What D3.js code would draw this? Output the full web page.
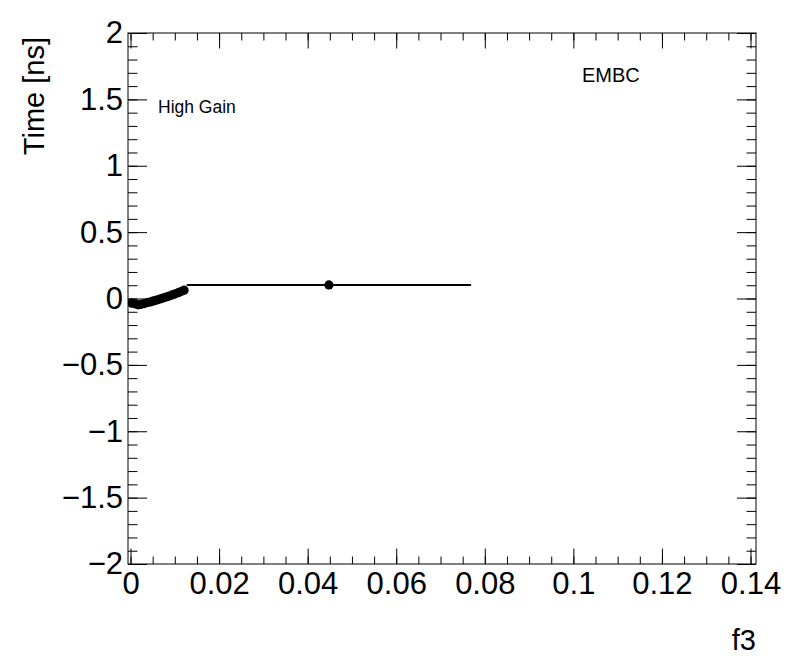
<!DOCTYPE html>
<html>
<head>
<meta charset="utf-8">
<script src="https://cdn.jsdelivr.net/npm/d3@7"></script>
<style>
  body { margin: 0; background: #fff; }
  svg { font-family: "Liberation Sans", Arial, Helvetica, sans-serif; }
</style>
</head>
<body>
<div id="chart"></div>
<script>
// points (f3 vs time)
const f3 = [0.0003, 0.0010, 0.0017, 0.0024, 0.0031, 0.0038, 0.0045, 0.0052, 0.0059,
            0.0066, 0.0073, 0.0080, 0.0087, 0.0094, 0.0101, 0.0108, 0.0115, 0.0121, 0.0448];
const time = [-0.035, -0.040, -0.048, -0.044, -0.038, -0.031, -0.026, -0.018, -0.012,
              -0.004, 0.003, 0.011, 0.018, 0.027, 0.035, 0.044, 0.054, 0.063, 0.102];
const f3Err = [0.00035, 0.00035, 0.00035, 0.00035, 0.00035, 0.00035, 0.00035, 0.00035, 0.00035,
               0.00035, 0.00035, 0.00035, 0.00035, 0.00035, 0.00035, 0.00035, 0.00035, 0.0003, 0.0321];
const timeErr = [0.016, 0.016, 0.016, 0.016, 0.016, 0.016, 0.016, 0.016, 0.016,
                 0.016, 0.016, 0.016, 0.016, 0.016, 0.016, 0.016, 0.016, 0.016, 0.0];

const xTicks = [0, 0.02, 0.04, 0.06, 0.08, 0.1, 0.12, 0.14];
const yTicks = [-2, -1.5, -1, -0.5, 0, 0.5, 1, 1.5, 2];
const xMinor = d3.range(0, 0.1401, 0.005);
const yMinor = d3.range(-2, 2.001, 0.1);

const W = 796, H = 672;
const frame = {left: 128, right: 756, top: 33, bottom: 564};

const svg = d3.select('#chart').append('svg')
    .attr('width', W)
    .attr('height', H);

const x = d3.scaleLinear().domain([-0.00057, 0.14124]).range([frame.left, frame.right]);
const y = d3.scaleLinear().domain([-2, 2]).range([frame.bottom, frame.top]);

const fmtY = d => d < 0 ? '\u2212' + Math.abs(d) : String(d);

// bottom axis with labels
svg.append('g').attr('transform', `translate(0,${frame.bottom})`)
    .call(d3.axisBottom(x).tickValues(xTicks).tickSize(-15.5).tickPadding(8)
        .tickFormat(d => String(+d.toFixed(2))));
svg.append('g').attr('transform', `translate(0,${frame.bottom})`)
    .call(d3.axisBottom(x).tickValues(xMinor).tickSize(-7.5).tickFormat(''));
// top axis, ticks only
svg.append('g').attr('transform', `translate(0,${frame.top})`)
    .call(d3.axisTop(x).tickValues(xTicks).tickSize(-15.5).tickFormat(''));
svg.append('g').attr('transform', `translate(0,${frame.top})`)
    .call(d3.axisTop(x).tickValues(xMinor).tickSize(-7.5).tickFormat(''));

// left axis with labels
svg.append('g').attr('transform', `translate(${frame.left},0)`)
    .call(d3.axisLeft(y).tickValues(yTicks).tickSize(-19).tickPadding(5).tickFormat(fmtY));
svg.append('g').attr('transform', `translate(${frame.left},0)`)
    .call(d3.axisLeft(y).tickValues(yMinor).tickSize(-9.5).tickFormat(''));
// right axis, ticks only
svg.append('g').attr('transform', `translate(${frame.right},0)`)
    .call(d3.axisRight(y).tickValues(yTicks).tickSize(-19).tickFormat(''));
svg.append('g').attr('transform', `translate(${frame.right},0)`)
    .call(d3.axisRight(y).tickValues(yMinor).tickSize(-9.5).tickFormat(''));

svg.selectAll('.domain').remove();
svg.selectAll('.tick line').attr('stroke', '#000').attr('stroke-width', 1);
svg.selectAll('.tick text').attr('fill', '#000').style('font-size', '31px')
    .style('font-family', '"Liberation Sans", Arial, sans-serif');

svg.append('rect')
    .attr('x', frame.left).attr('y', frame.top)
    .attr('width', frame.right - frame.left).attr('height', frame.bottom - frame.top)
    .attr('fill', 'none').attr('stroke', '#000').attr('stroke-width', 1);

// data
const pts = f3.map((v, i) => ({x: v, y: time[i], ex: f3Err[i], ey: timeErr[i]}));

svg.append('clipPath').attr('id', 'clip').append('rect')
    .attr('x', frame.left).attr('y', frame.top)
    .attr('width', frame.right - frame.left).attr('height', frame.bottom - frame.top);

const gD = svg.append('g').attr('clip-path', 'url(#clip)');

gD.selectAll('.ex').data(pts).enter().append('line')
    .attr('x1', d => x(d.x - d.ex)).attr('x2', d => x(d.x + d.ex))
    .attr('y1', d => y(d.y)).attr('y2', d => y(d.y))
    .attr('stroke', '#000').attr('stroke-width', 2);

gD.selectAll('.ey').data(pts.filter(d => d.ey > 0)).enter().append('line')
    .attr('x1', d => x(d.x)).attr('x2', d => x(d.x))
    .attr('y1', d => y(d.y - d.ey)).attr('y2', d => y(d.y + d.ey))
    .attr('stroke', '#000').attr('stroke-width', 2);

gD.selectAll('circle').data(pts).enter().append('circle')
    .attr('cx', d => x(d.x)).attr('cy', d => y(d.y)).attr('r', 4.6)
    .attr('fill', '#000');

// titles
svg.append('text')
    .attr('x', 756).attr('y', 650)
    .attr('text-anchor', 'end')
    .style('font-size', '29px')
    .text('f3');

svg.append('text')
    .attr('transform', 'translate(44,37) rotate(-90)')
    .attr('text-anchor', 'end')
    .style('font-size', '29px')
    .text('Time [ns]');

svg.append('text')
    .attr('x', 158).attr('y', 113)
    .style('font-size', '17.5px')
    .text('High Gain');

svg.append('text')
    .attr('x', 582).attr('y', 82)
    .style('font-size', '20px')
    .text('EMBC');
</script>
</body>
</html>
